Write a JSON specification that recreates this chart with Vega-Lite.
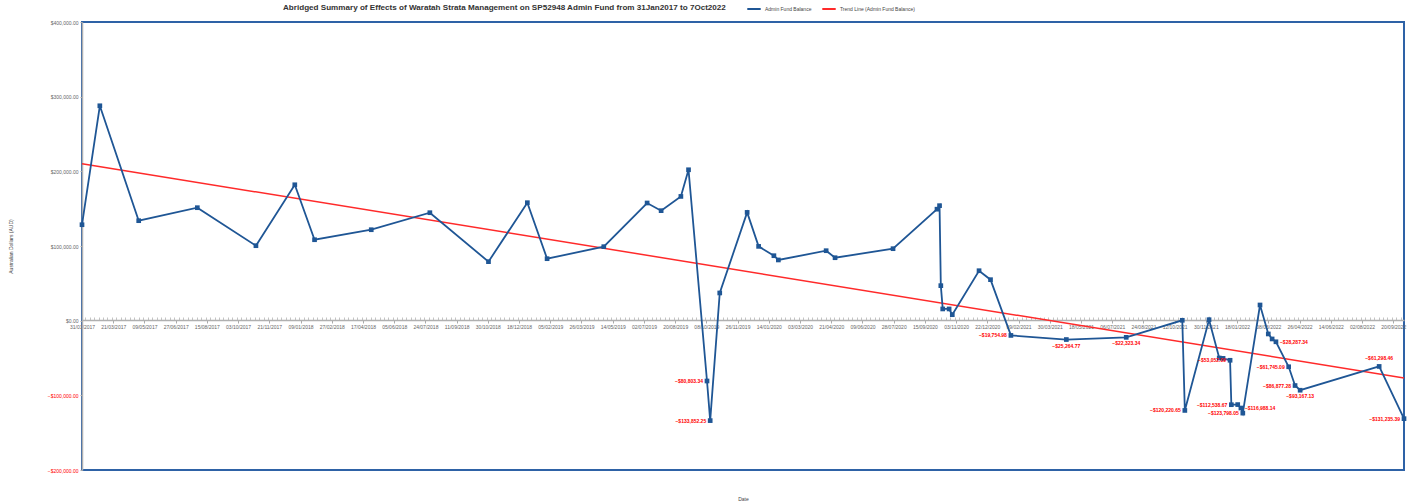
{
  "$schema": "https://vega.github.io/schema/vega-lite/v6.json",
  "width": 1322,
  "height": 448,
  "autosize": "none",
  "padding": {"left": 82, "top": 22, "right": 4, "bottom": 33},
  "title": {
    "text": "Abridged Summary of Effects of Waratah Strata Management on SP52948 Admin Fund from 31Jan2017 to 7Oct2022",
    "anchor": "start",
    "frame": "group",
    "dx": 201,
    "offset": 0,
    "dy": 11,
    "fontSize": 8.1,
    "fontWeight": "bold",
    "color": "#333333",
    "font": "Liberation Sans"
  },
  "config": {
    "font": "Liberation Sans",
    "view": {"stroke": "#2e62a6", "strokeWidth": 2}
  },
  "data": {
    "values": [
      {"date": "2017-01-31", "value": 128500},
      {"date": "2017-02-28", "value": 287800},
      {"date": "2017-04-30", "value": 133900},
      {"date": "2017-07-31", "value": 151300},
      {"date": "2017-10-31", "value": 100400},
      {"date": "2017-12-31", "value": 182000},
      {"date": "2018-01-31", "value": 108400},
      {"date": "2018-04-30", "value": 121800},
      {"date": "2018-07-31", "value": 144600},
      {"date": "2018-10-31", "value": 79000},
      {"date": "2018-12-31", "value": 158000},
      {"date": "2019-01-31", "value": 83000},
      {"date": "2019-04-30", "value": 99100},
      {"date": "2019-07-07", "value": 157600},
      {"date": "2019-07-29", "value": 147300},
      {"date": "2019-08-29", "value": 166400},
      {"date": "2019-09-10", "value": 202100},
      {"date": "2019-10-09", "value": -80803.34},
      {"date": "2019-10-14", "value": -133852.25},
      {"date": "2019-10-29", "value": 37100},
      {"date": "2019-12-11", "value": 145000},
      {"date": "2019-12-29", "value": 99500},
      {"date": "2020-01-22", "value": 87000},
      {"date": "2020-01-29", "value": 81300},
      {"date": "2020-04-13", "value": 93700},
      {"date": "2020-04-27", "value": 84300},
      {"date": "2020-07-27", "value": 96400},
      {"date": "2020-10-04", "value": 149300},
      {"date": "2020-10-08", "value": 154000},
      {"date": "2020-10-10", "value": 46900},
      {"date": "2020-10-13", "value": 15700},
      {"date": "2020-10-23", "value": 15700},
      {"date": "2020-10-28", "value": 8000},
      {"date": "2020-12-09", "value": 66900},
      {"date": "2020-12-27", "value": 54900},
      {"date": "2021-01-28", "value": -19754.98},
      {"date": "2021-04-25", "value": -25264.77},
      {"date": "2021-07-28", "value": -22323.34},
      {"date": "2021-10-24", "value": 500},
      {"date": "2021-10-28", "value": -120220.65},
      {"date": "2021-12-05", "value": 1300},
      {"date": "2021-12-21", "value": -50000},
      {"date": "2021-12-27", "value": -50500},
      {"date": "2022-01-07", "value": -53052.09},
      {"date": "2022-01-09", "value": -112538.67},
      {"date": "2022-01-19", "value": -112400},
      {"date": "2022-01-24", "value": -116988.14},
      {"date": "2022-01-27", "value": -123798.05},
      {"date": "2022-02-23", "value": 21000},
      {"date": "2022-03-08", "value": -17800},
      {"date": "2022-03-14", "value": -24500},
      {"date": "2022-03-20", "value": -28287.34},
      {"date": "2022-04-09", "value": -61745.09},
      {"date": "2022-04-19", "value": -86877.28},
      {"date": "2022-04-27", "value": -93167.13},
      {"date": "2022-08-29", "value": -61298.46},
      {"date": "2022-10-07", "value": -131235.39}
    ]
  },
  "layer": [
    {
      "data": {"values": [
        {"date": "2017-01-31", "value": 210200},
        {"date": "2022-10-07", "value": -76700}
      ]},
      "mark": {"type": "line", "strokeWidth": 1.5},
      "encoding": {
        "x": {
          "field": "date", "type": "temporal",
          "scale": {"type": "utc", "domain": [{"year": 2017, "month": 1, "date": 31, "utc": true}, {"year": 2022, "month": 10, "date": 7, "utc": true}], "nice": false},
          "axis": {
            "orient": "top",
            "offset": -298,
            "tickCount": {"interval": "week", "step": 1},
            "labels": false,
            "domain": false,
            "grid": false,
            "title": null,
            "tickSize": 3,
            "tickColor": "#aaaaaa",
            "tickWidth": 0.7
          }
        },
        "y": {"field": "value", "type": "quantitative"},
        "color": {"datum": "Trend Line (Admin Fund Balance)"}
      }
    },
    {
      "mark": {"type": "line", "strokeWidth": 1.8, "point": {"shape": "square", "size": 22, "filled": true}},
      "encoding": {
        "x": {
          "field": "date", "type": "temporal",
          "axis": {
            "orient": "bottom",
            "offset": -150,
            "values": [
              {"year": 2017, "month": 1, "date": 31, "utc": true},
              {"year": 2017, "month": 3, "date": 21, "utc": true},
              {"year": 2017, "month": 5, "date": 9, "utc": true},
              {"year": 2017, "month": 6, "date": 27, "utc": true},
              {"year": 2017, "month": 8, "date": 15, "utc": true},
              {"year": 2017, "month": 10, "date": 3, "utc": true},
              {"year": 2017, "month": 11, "date": 21, "utc": true},
              {"year": 2018, "month": 1, "date": 9, "utc": true},
              {"year": 2018, "month": 2, "date": 27, "utc": true},
              {"year": 2018, "month": 4, "date": 17, "utc": true},
              {"year": 2018, "month": 6, "date": 5, "utc": true},
              {"year": 2018, "month": 7, "date": 24, "utc": true},
              {"year": 2018, "month": 9, "date": 11, "utc": true},
              {"year": 2018, "month": 10, "date": 30, "utc": true},
              {"year": 2018, "month": 12, "date": 18, "utc": true},
              {"year": 2019, "month": 2, "date": 5, "utc": true},
              {"year": 2019, "month": 3, "date": 26, "utc": true},
              {"year": 2019, "month": 5, "date": 14, "utc": true},
              {"year": 2019, "month": 7, "date": 2, "utc": true},
              {"year": 2019, "month": 8, "date": 20, "utc": true},
              {"year": 2019, "month": 10, "date": 8, "utc": true},
              {"year": 2019, "month": 11, "date": 26, "utc": true},
              {"year": 2020, "month": 1, "date": 14, "utc": true},
              {"year": 2020, "month": 3, "date": 3, "utc": true},
              {"year": 2020, "month": 4, "date": 21, "utc": true},
              {"year": 2020, "month": 6, "date": 9, "utc": true},
              {"year": 2020, "month": 7, "date": 28, "utc": true},
              {"year": 2020, "month": 9, "date": 15, "utc": true},
              {"year": 2020, "month": 11, "date": 3, "utc": true},
              {"year": 2020, "month": 12, "date": 22, "utc": true},
              {"year": 2021, "month": 2, "date": 9, "utc": true},
              {"year": 2021, "month": 3, "date": 30, "utc": true},
              {"year": 2021, "month": 5, "date": 18, "utc": true},
              {"year": 2021, "month": 7, "date": 6, "utc": true},
              {"year": 2021, "month": 8, "date": 24, "utc": true},
              {"year": 2021, "month": 10, "date": 12, "utc": true},
              {"year": 2021, "month": 11, "date": 30, "utc": true},
              {"year": 2022, "month": 1, "date": 18, "utc": true},
              {"year": 2022, "month": 3, "date": 8, "utc": true},
              {"year": 2022, "month": 4, "date": 26, "utc": true},
              {"year": 2022, "month": 6, "date": 14, "utc": true},
              {"year": 2022, "month": 8, "date": 2, "utc": true},
              {"year": 2022, "month": 9, "date": 20, "utc": true}
            ],
            "format": "%d/%m/%Y",
            "labelFontSize": 5,
            "labelColor": "#666666",
            "labelAngle": 0,
            "labelPadding": 1,
            "labelOverlap": false,
            "labelFlush": false,
            "tickSize": 3,
            "tickColor": "#aaaaaa",
            "domainColor": "#b0b0b0",
            "domainWidth": 1.5,
            "grid": false,
            "title": "Date",
            "titleFontSize": 5,
            "titleFontWeight": "normal",
            "titleColor": "#444444",
            "titleY": 176
          }
        },
        "y": {
          "field": "value", "type": "quantitative",
          "scale": {"domain": [-200000, 400000], "nice": false, "zero": false},
          "axis": {
            "values": [-200000, -100000, 0, 100000, 200000, 300000, 400000],
            "format": "$,.2f",
            "labelFontSize": 5,
            "labelColor": {"condition": {"test": "datum.value < 0", "value": "#ff0000"}, "value": "#666666"},
            "tickSize": 2,
            "tickColor": "#aaaaaa",
            "labelPadding": 2,
            "domainColor": "#b0b0b0",
            "domainWidth": 1.5,
            "grid": false,
            "title": "Australian Dollars (AUD)",
            "titleFontSize": 5,
            "titleFontWeight": "normal",
            "titleColor": "#444444",
            "titlePadding": 34
          }
        },
        "color": {
          "datum": "Admin Fund Balance",
          "scale": {"domain": ["Admin Fund Balance", "Trend Line (Admin Fund Balance)"], "range": ["#1f5695", "#ff2a2a"]},
          "legend": {
            "orient": "none",
            "legendX": 664,
            "legendY": -21,
            "direction": "horizontal",
            "title": null,
            "symbolType": "stroke",
            "symbolStrokeWidth": 2,
            "symbolSize": 180,
            "labelFontSize": 5,
            "labelColor": "#444444",
            "columnPadding": 6,
            "labelOffset": 3
          }
        }
      }
    },
    {
      "transform": [{"filter": {"field": "value", "oneOf": [-80803.34, -133852.25, -19754.98, -120220.65, -53052.09, -112538.67, -123798.05, -61745.09, -86877.28, -131235.39]}}],
      "mark": {"type": "text", "align": "right", "baseline": "middle", "dx": -4, "fontSize": 5, "fontWeight": "bold", "color": "#ff0000"},
      "encoding": {
        "x": {"field": "date", "type": "temporal", "axis": null},
        "y": {"field": "value", "type": "quantitative"},
        "text": {"field": "value", "type": "quantitative", "format": "$,.2f"}
      }
    },
    {
      "transform": [{"filter": {"field": "value", "oneOf": [-25264.77, -22323.34, -93167.13]}}],
      "mark": {"type": "text", "align": "center", "baseline": "top", "dy": 4, "fontSize": 5, "fontWeight": "bold", "color": "#ff0000"},
      "encoding": {
        "x": {"field": "date", "type": "temporal", "axis": null},
        "y": {"field": "value", "type": "quantitative"},
        "text": {"field": "value", "type": "quantitative", "format": "$,.2f"}
      }
    },
    {
      "transform": [{"filter": {"field": "value", "oneOf": [-116988.14, -28287.34]}}],
      "mark": {"type": "text", "align": "left", "baseline": "middle", "dx": 4, "fontSize": 5, "fontWeight": "bold", "color": "#ff0000"},
      "encoding": {
        "x": {"field": "date", "type": "temporal", "axis": null},
        "y": {"field": "value", "type": "quantitative"},
        "text": {"field": "value", "type": "quantitative", "format": "$,.2f"}
      }
    },
    {
      "transform": [{"filter": {"field": "value", "oneOf": [-61298.46]}}],
      "mark": {"type": "text", "align": "center", "baseline": "bottom", "dy": -5, "fontSize": 5, "fontWeight": "bold", "color": "#ff0000"},
      "encoding": {
        "x": {"field": "date", "type": "temporal", "axis": null},
        "y": {"field": "value", "type": "quantitative"},
        "text": {"field": "value", "type": "quantitative", "format": "$,.2f"}
      }
    }
  ],
  "resolve": {"axis": {"x": "independent"}}
}
